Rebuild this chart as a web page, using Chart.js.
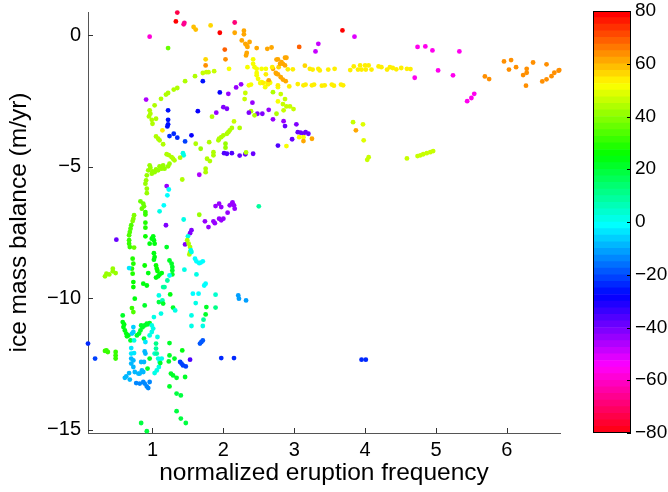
<!DOCTYPE html>
<html>
<head>
<meta charset="utf-8">
<script src="https://cdn.jsdelivr.net/npm/chart.js@4"></script>
<style>
  html, body { margin: 0; padding: 0; background: #fff; }
  #wrap { position: relative; width: 668px; height: 492px; }
  canvas { position: absolute; top: 0; }
  #plot { left: 0; }
  #bar { left: 560px; }
</style>
</head>
<body>
<div id="wrap">
  <canvas id="plot" width="668" height="492"></canvas>
  <canvas id="bar" width="108" height="492"></canvas>
</div>
<script>
// normalized eruption frequency (x)
const freq = [
  1.35,1.33,1.45,1.44,1.58,1.61,1.82,1.95,2.16,2.16,2.29,2.29,0.96,1.22,2.02,2.03,
  2.26,2.31,2.33,2.37,2.34,2.33,2.32,2.47,2.62,2.68,
  2.42,2.42,2.44,2.47,2.54,2.60,2.34,1.75,1.75,2.08,
  1.87,1.71,1.76,1.79,1.60,1.46,1.71,1.35,1.30,1.22,1.19,1.12,0.91,1.03,
  0.96,0.97,0.95,0.99,1.00,1.22,1.22,1.22,1.21,1.05,1.14,
  1.05,1.08,1.10,1.15,1.24,1.30,1.35,1.46,1.55,1.64,1.95,2.07,2.18,2.25,
  1.90,2.00,2.05,1.84,2.15,2.12,2.09,2.07,2.05,2.00,1.97,1.94,1.93,2.23,
  1.61,1.80,1.68,2.03,2.03,2.01,2.05,2.12,2.23,2.31,2.42,2.32,1.86,1.86,
  1.43,1.44,1.23,1.27,1.20,1.39,1.77,2.39,2.41,2.36,2.48,2.55,2.44,2.64,2.70,2.77,
  2.70,2.62,2.66,2.54,2.52,2.59,2.64,2.47,2.49,2.47,2.36,2.39,2.31,2.30,
  2.70,2.75,2.75,2.78,2.77,2.75,3.68,3.85,3.34,3.30,3.07,
  2.87,2.89,2.77,2.82,2.84,2.80,2.87,3.15,
  3.22,3.26,3.34,3.36,3.48,3.57,3.79,3.84,3.90,3.93,3.95,4.00,4.01,4.05,4.09,
  4.19,4.23,4.31,4.35,4.39,4.44,4.51,4.59,4.64,2.69,2.91,2.98,
  2.74,2.77,2.81,2.84,2.88,2.60,2.56,2.63,2.77,2.93,
  3.05,3.13,3.16,3.25,3.28,3.39,3.43,3.53,3.56,3.66,3.69,
  2.81,2.87,2.77,2.84,2.89,2.94,2.99,2.85,2.85,2.87,3.03,
  3.05,3.09,3.13,3.16,3.20,2.97,3.07,3.13,3.13,3.25,2.89,
  3.83,3.97,3.87,3.98,4.05,4.03,4.59,4.74,4.78,4.82,4.87,4.92,4.96,
  4.74,4.85,4.95,5.33,5.03,4.70,5.24,5.54,5.50,5.44,
  5.69,5.75,5.96,6.06,6.03,6.13,6.23,6.28,6.28,6.37,6.27,6.56,6.50,6.56,6.63,6.67,6.73,6.74,
  1.29,1.31,1.81,1.24,1.22,1.17,1.13,1.08,1.03,0.99,0.96,0.97,0.94,
  0.92,0.91,0.90,0.92,0.92,1.10,1.05,1.00,1.15,1.42,1.75,1.75,1.66,
  1.20,1.23,1.21,0.83,0.87,0.88,0.85,1.16,1.10,0.90,0.90,
  0.74,0.73,0.72,0.90,0.90,0.70,0.69,0.68,0.67,0.90,0.67,0.67,0.68,0.74,
  0.99,1.01,1.02,1.03,0.96,0.49,1.20,1.19,1.44,1.66,1.74,1.79,
  1.86,1.88,1.94,1.97,2.00,1.89,1.94,1.97,2.12,2.15,2.06,2.16,2.09,2.13,
  2.50,1.55,1.53,1.50,1.46,1.49,1.51,1.53,1.53,1.52,1.54,1.55,
  1.02,1.03,1.02,0.72,0.73,0.71,0.72,0.89,1.24,1.27,1.28,1.28,1.28,
  1.05,1.06,1.07,1.60,1.62,1.66,1.71,1.68,1.45,0.67,
  0.44,0.44,0.35,0.33,0.39,0.48,0.94,1.08,1.05,1.10,1.13,1.24,1.62,
  0.73,0.73,0.87,0.92,1.21,1.17,1.15,1.73,1.75,1.09,1.25,1.57,1.65,1.89,
  0.75,2.21,2.22,2.32,0.71,0.73,0.89,0.58,1.09,1.14,1.15,1.29,1.32,
  1.12,1.02,0.96,0.92,0.89,0.84,0.83,0.81,0.86,0.93,0.78,
  0.58,0.59,0.61,0.63,0.66,0.60,0.64,0.73,0.73,0.71,0.99,1.01,0.99,0.96,
  1.07,0.88,0.69,0.74,0.90,1.05,1.05,1.03,1.06,1.24,1.61,1.76,1.75,1.89,
  1.55,1.55,1.71,1.72,0.09,1.67,1.71,1.69,0.35,0.37,0.33,0.48,0.48,0.48,0.19,
  0.70,0.74,0.70,0.89,0.90,0.84,0.88,0.96,0.70,0.73,0.70,0.73,
  1.08,1.10,1.13,1.09,1.06,1.03,1.11,0.93,1.24,1.31,1.23,1.42,
  1.39,1.41,1.43,1.47,1.53,1.97,2.15,3.95,4.01,
  0.85,0.87,0.82,0.80,0.75,0.67,0.63,0.61,0.68,
  0.77,0.82,0.87,0.89,0.92,0.94,0.96,1.26,1.29,1.34,1.24,1.46,
  1.34,1.40,1.34,1.40,1.47,0.84,0.92
];

// ice mass balance, m/yr (y)
const balance = [
  0.87,0.53,0.48,0.42,0.32,0.22,0.38,0.10,0.49,0.10,0.18,0.04,-0.05,-0.48,-0.54,-0.91,
  -0.19,-0.32,-0.38,-0.25,-0.44,-0.67,-0.76,-0.48,-0.51,-0.46,
  -0.91,-1.08,-1.21,-1.27,-1.27,-1.27,-1.21,-0.91,-1.14,-1.27,
  -1.36,-1.43,-1.40,-1.40,-1.55,-1.74,-1.74,-2.00,-2.06,-2.19,-2.25,-2.41,-2.44,-2.66,
  -2.85,-2.98,-3.08,-3.21,-3.36,-2.85,-3.21,-3.38,-3.46,-3.17,-3.61,
  -3.84,-3.93,-3.99,-4.14,-3.83,-3.74,-3.89,-4.03,-3.80,-2.88,-2.17,-2.22,-1.98,-1.86,
  -2.94,-2.73,-2.79,-3.09,-3.27,-3.52,-3.61,-3.68,-3.74,-3.80,-3.87,-3.93,-3.99,-3.52,
  -4.12,-4.06,-4.31,-4.12,-4.27,-4.48,-4.50,-4.48,-4.57,-4.52,-4.50,-4.45,-4.44,-4.56,
  -4.48,-4.56,-4.55,-4.63,-4.52,-4.65,-4.69,-2.88,-2.56,-2.94,-2.98,-2.98,-3.04,-2.83,-3.19,-4.19,
  -2.16,-1.80,-1.80,-1.78,-1.81,-1.97,-1.71,-1.52,-1.65,-1.43,-1.90,-1.87,-2.19,-2.42,
  -1.27,-1.46,-0.92,-1.21,-1.97,-2.98,0.19,-0.05,-0.32,-0.61,-0.44,
  -0.85,-0.85,-0.91,-1.02,-1.08,-1.08,-1.14,-1.15,
  -1.27,-1.30,-1.27,-1.33,-1.30,-1.27,-1.32,-1.18,-1.30,-1.14,-1.30,-1.14,-1.30,-1.14,-1.30,
  -1.18,-1.21,-1.30,-1.21,-1.24,-1.29,-1.24,-1.27,-1.28,-1.21,-1.29,-1.29,
  -1.43,-1.48,-1.59,-1.68,-1.74,-1.48,-1.81,-1.86,-1.90,-1.94,
  -1.85,-1.90,-1.87,-1.90,-1.87,-1.91,-1.90,-1.87,-1.91,-1.87,-1.90,
  -2.23,-2.42,-2.51,-2.61,-2.70,-2.70,-2.80,-2.85,-3.26,-3.45,-3.38,
  -3.68,-3.70,-3.74,-3.68,-3.74,-3.95,-3.87,-3.87,-4.02,-3.93,-4.21,
  -3.30,-3.38,-3.61,-3.99,-4.63,-4.73,-4.68,-4.59,-4.56,-4.52,-4.48,-4.44,-4.40,
  -0.44,-0.42,-0.57,-0.61,-1.33,-1.61,-1.52,-2.22,-2.38,-2.50,
  -1.56,-1.66,-0.99,-0.94,-1.30,-1.21,-1.51,-1.42,-1.27,-1.03,-1.91,-1.10,-1.75,-1.67,-1.55,-1.42,-1.34,-1.32,
  -4.69,-4.75,-4.78,-4.88,-4.98,-5.07,-5.07,-5.13,-5.20,-5.26,-4.94,-5.03,-5.13,
  -5.32,-5.51,-5.64,-5.83,-6.00,-4.98,-5.10,-5.17,-4.94,-5.48,-5.07,-5.20,-5.30,
  -5.73,-5.86,-6.08,-6.31,-6.40,-6.50,-6.59,-6.46,-6.69,-6.72,-6.81,
  -6.84,-6.97,-7.06,-7.12,-7.31,-7.22,-7.35,-7.48,-7.60,-7.64,-7.79,-7.92,-8.05,-8.07,
  -7.73,-7.64,-7.79,-7.92,-7.92,-7.77,-8.05,-7.22,-7.00,-6.82,-7.07,-7.29,
  -7.07,-7.14,-6.97,-7.03,-6.97,-6.49,-6.40,-6.53,-6.40,-6.46,-6.74,-6.59,-6.46,-6.35,
  -6.50,-7.41,-7.52,-7.64,-7.95,-7.79,-7.92,-8.05,-8.24,-8.33,-8.17,-8.24,
  -8.28,-8.43,-8.53,-8.49,-8.68,-8.87,-9.06,-8.75,-8.56,-8.68,-8.81,-8.94,-9.09,
  -8.75,-8.87,-8.96,-8.49,-8.59,-8.66,-8.59,-8.64,-8.91,-8.85,
  -8.87,-8.97,-9.06,-9.16,-9.09,-9.04,-9.04,-9.16,-9.21,-9.09,-9.04,-9.13,-9.09,
  -9.38,-9.57,-9.44,-9.51,-9.32,-9.57,-9.57,-9.51,-9.44,-9.89,-9.85,-9.82,-9.82,-9.86,
  -10.01,-9.89,-10.01,-10.08,-10.37,-10.52,-10.27,-10.65,-10.14,-10.08,-10.20,-10.35,-10.46,
  -10.58,-10.71,-10.94,-10.96,-11.03,-11.03,-11.22,-11.34,-11.10,-10.99,-11.41,
  -10.90,-11.09,-11.22,-11.34,-11.41,-10.99,-11.44,-11.09,-11.28,-11.34,-11.03,-11.15,-11.28,-11.41,
  -11.47,-11.53,-11.60,-11.60,-11.66,-11.72,-11.91,-12.10,-12.10,-11.70,-10.18,-10.33,-10.61,-10.35,
  -10.65,-11.05,-11.05,-10.81,-11.72,-11.72,-11.60,-11.66,-11.98,-12.04,-12.00,-12.04,-12.17,-12.29,-12.29,
  -11.89,-12.08,-12.10,-12.02,-12.10,-12.42,-12.42,-12.29,-12.29,-12.36,-12.48,-12.61,
  -12.29,-12.42,-12.29,-12.61,-12.74,-12.84,-12.46,-12.67,-12.17,-12.29,-12.40,-11.98,
  -12.42,-12.48,-12.55,-12.59,-12.33,-12.27,-12.27,-12.33,-12.33,
  -12.74,-12.80,-12.86,-12.86,-12.80,-12.84,-12.97,-13.02,-13.09,
  -13.22,-13.24,-13.18,-13.24,-13.35,-13.41,-13.18,-12.86,-12.93,-13.02,-13.35,-12.99,
  -13.62,-13.69,-14.29,-14.57,-14.74,-14.74,-15.05
];

// colour variable (latitude, degrees)
const latitude = [
  -74,79,-66,-66,58,58,56,78,-68,60,60,60,-58,36,68,64,
  60,60,60,60,60,60,60,62,60,60,
  52,52,52,52,52,52,52,55,64,52,
  46,46,46,46,44,44,-26,44,44,44,44,44,-46,44,
  44,44,44,44,44,-26,-26,-26,-26,44,54,
  44,44,44,44,-24,-24,-24,-22,-28,-28,-30,-44,-44,-44,
  -44,-42,-42,44,46,44,44,44,44,44,44,44,44,44,
  44,44,42,42,42,-36,-36,-36,-40,-40,-40,44,44,44,
  2,2,44,44,44,44,44,44,-44,-42,-42,-42,44,-44,-44,-36,
  44,52,52,52,52,52,62,52,52,52,50,50,46,46,
  62,62,62,55,52,44,79,-52,-48,-48,68,
  60,60,60,60,60,60,60,57,
  53,53,53,53,53,53,53,53,53,53,53,53,53,53,53,
  53,53,53,53,53,53,53,53,53,53,53,53,
  62,62,62,62,62,53,53,53,53,53,
  53,53,53,53,53,53,53,53,53,53,53,
  46,46,52,46,46,46,46,46,-44,-38,-42,
  -38,-38,-38,-38,-38,-38,52,52,60,60,52,
  46,48,62,48,46,46,46,46,46,46,46,46,46,
  -56,-56,-56,-56,-56,-56,-56,-56,-56,-56,
  64,64,64,64,64,64,64,64,64,64,64,64,64,64,64,64,64,64,
  44,44,44,42,42,42,42,42,42,42,42,42,42,
  42,42,42,42,42,42,42,42,42,44,44,44,-46,
  -44,-2,-2,36,36,36,36,-2,0,30,30,
  38,38,38,28,28,34,34,34,34,26,32,32,32,36,
  24,24,24,24,24,-40,22,-42,2,42,-44,-44,
  -44,-44,-44,-44,-44,-44,-44,-44,-44,-44,-44,-44,-44,-44,
  8,-42,-42,0,-42,44,44,44,44,44,0,0,
  24,24,24,28,28,28,28,26,22,22,22,22,22,
  26,26,26,-2,-2,-2,-2,-2,0,-4,
  42,42,42,42,42,42,24,24,24,24,24,-2,0,
  26,26,24,24,8,8,8,-2,-2,0,24,-2,-2,4,
  24,-12,-12,-12,30,34,22,22,18,6,22,20,0,
  0,0,20,20,20,20,20,20,20,20,20,
  24,24,24,24,24,24,24,-6,-6,-6,0,0,0,0,
  2,22,20,0,-4,12,8,4,8,22,0,22,20,10,
  0,0,0,8,-24,-18,-18,-18,30,30,30,30,30,30,-22,
  -4,-4,-4,-8,-8,-8,-8,22,-8,-8,-8,-8,
  0,0,0,0,0,0,20,22,22,22,22,24,
  -22,-22,-22,-22,-36,-24,-24,-24,-24,
  -10,-10,-10,-10,-10,-10,-10,-10,-10,
  -14,-14,-14,-14,-14,-14,-14,22,22,22,22,22,
  18,18,18,18,18,18,18
];

const xTicks = [1, 2, 3, 4, 5, 6];
const yTicks = [-15, -10, -5, 0];
const cbTicks = [-80, -60, -40, -20, 0, 20, 40, 60, 80];

const FONT = "'Liberation Sans', Arial, Helvetica, sans-serif";
const minus = v => (v < 0 ? '\u2212' + Math.abs(v) : String(v));

// flipped hsv colormap with 64 steps, like the matlab one
const LEVELS = 64;
const bandColor = i => {
  const h6 = ((LEVELS - 1 - i) / LEVELS) * 6;
  const k = Math.floor(h6);
  const f = h6 - k;
  const q = 1 - f;
  const rgb = [[1, f, 0], [q, 1, 0], [0, 1, f], [0, q, 1], [f, 0, 1], [1, 0, q]][k % 6];
  return `rgb(${rgb.map(c => Math.round(c * 255)).join(',')})`;
};
const latColor = v => bandColor(Math.max(0, Math.min(LEVELS - 1, Math.floor((v + 80) / 2.5))));

// no extra room for the end labels, the boxes are sized by hand
const noPad = s => { s.paddingTop = 0; s.paddingBottom = 0; s.paddingLeft = 0; s.paddingRight = 0; };

const innerTicks = {
  id: 'innerTicks',
  afterDraw(chart) {
    const { ctx, chartArea: a, scales } = chart;
    ctx.save();
    ctx.strokeStyle = '#333';
    ctx.lineWidth = 1;
    ctx.beginPath();
    xTicks.forEach(v => {
      const px = Math.round(scales.x.getPixelForValue(v)) + 0.5;
      ctx.moveTo(px, a.bottom);
      ctx.lineTo(px, a.bottom - 5);
    });
    yTicks.forEach(v => {
      const py = Math.round(scales.y.getPixelForValue(v)) + 0.5;
      ctx.moveTo(a.left, py);
      ctx.lineTo(a.left + 5, py);
    });
    ctx.stroke();
    ctx.restore();
  }
};

new Chart(document.getElementById('plot'), {
  type: 'scatter',
  data: {
    datasets: [{
      data: freq.map((x, i) => ({ x, y: balance[i] })),
      pointBackgroundColor: latitude.map(latColor),
      pointBorderWidth: 0,
      pointRadius: 2.4,
      clip: false,
    }],
  },
  options: {
    responsive: false,
    animation: false,
    devicePixelRatio: 1,
    layout: { padding: { top: 12, right: 108, left: 0, bottom: 0 } },
    plugins: { legend: { display: false }, tooltip: { enabled: false } },
    scales: {
      x: {
        type: 'linear',
        min: 0.09,
        max: 6.75,
        afterBuildTicks: s => { s.ticks = xTicks.map(value => ({ value })); },
        afterFit: s => { s.height = 59; noPad(s); },
        grid: { display: false, drawTicks: false },
        border: { display: true, color: '#555', width: 1 },
        ticks: { font: { family: FONT, size: 20 }, color: '#000', padding: 5, maxRotation: 0, autoSkip: false, callback: minus },
        title: { display: true, text: 'normalized eruption frequency', color: '#000', font: { family: FONT, size: 24.5 }, padding: 4 },
      },
      y: {
        min: -15.12,
        max: 0.89,
        afterBuildTicks: s => { s.ticks = yTicks.map(value => ({ value })); },
        afterFit: s => { s.width = 88; noPad(s); },
        grid: { display: false, drawTicks: false },
        border: { display: true, color: '#555', width: 1 },
        ticks: { font: { family: FONT, size: 20 }, color: '#000', padding: 7, autoSkip: false, callback: minus },
        title: { display: true, text: 'ice mass balance (m/yr)', color: '#000', font: { family: FONT, size: 24.5 }, padding: 5 },
      },
    },
  },
  plugins: [innerTicks],
});

// colour bar
const cbOutline = {
  id: 'cbOutline',
  afterDraw(chart) {
    const { ctx, chartArea: a, scales } = chart;
    ctx.save();
    ctx.strokeStyle = '#000';
    ctx.lineWidth = 1;
    ctx.strokeRect(a.left + 0.5, a.top + 0.5, a.right - a.left - 1, a.bottom - a.top - 1);
    ctx.beginPath();
    cbTicks.forEach(v => {
      const py = Math.round(scales.y.getPixelForValue(v)) + 0.5;
      ctx.moveTo(a.right, py);
      ctx.lineTo(a.right - 4, py);
    });
    ctx.stroke();
    ctx.restore();
  }
};

new Chart(document.getElementById('bar'), {
  type: 'bar',
  data: {
    labels: [''],
    datasets: Array.from({ length: LEVELS }, (_, i) => ({
      data: [[-80 + i * 2.5, -80 + (i + 1) * 2.5]],
      backgroundColor: bandColor(i),
      borderWidth: 0,
      grouped: false,
      barPercentage: 1,
      categoryPercentage: 1,
    })),
  },
  options: {
    responsive: false,
    animation: false,
    devicePixelRatio: 1,
    layout: { padding: { top: 11, left: 33, right: 0, bottom: 59 } },
    plugins: { legend: { display: false }, tooltip: { enabled: false } },
    scales: {
      x: { display: false },
      y: {
        position: 'right',
        min: -80,
        max: 80,
        afterBuildTicks: s => { s.ticks = cbTicks.map(value => ({ value })); },
        afterFit: s => { s.width = 37; noPad(s); },
        grid: { display: false, drawTicks: false },
        border: { display: false },
        ticks: { font: { family: FONT, size: 19 }, color: '#000', padding: 4, autoSkip: false, callback: minus },
      },
    },
  },
  plugins: [cbOutline],
});
</script>
</body>
</html>
